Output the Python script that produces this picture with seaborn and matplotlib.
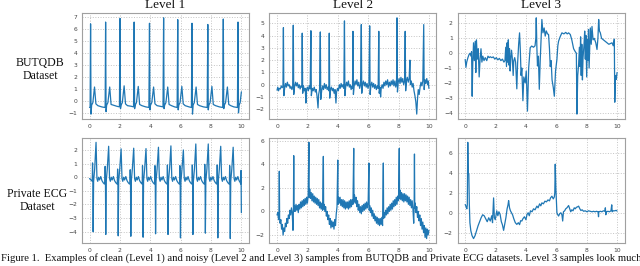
import numpy as np
import pandas as pd
import matplotlib
matplotlib.use("Agg")
import matplotlib.pyplot as plt
from matplotlib.ticker import MultipleLocator
import seaborn as sns

# ---------------- data ----------------
col_titles = ["Level 1", "Level 2", "Level 3"]
row_labels = ["BUTQDB\nDataset", "Private ECG\nDataset"]
caption = ("Figure 1.  Examples of clean (Level 1) and noisy (Level 2 and Level 3) samples "
           "from BUTQDB and Private ECG datasets. Level 3 samples look much")

# BUTQDB, level 1
t_a = [0.00, 0.04, 0.07, 0.10, 0.14, 0.22, 0.33, 0.42, 0.55, 0.80, 1.00,
       1.03, 1.06, 1.09, 1.13, 1.21, 1.33, 1.42, 1.55, 1.80, 1.97,
       2.01, 2.04, 2.08, 2.16, 2.28, 2.37, 2.50, 2.75, 2.90,
       2.94, 2.97, 3.01, 3.09, 3.21, 3.30, 3.45, 3.70, 3.91,
       3.95, 3.98, 4.02, 4.10, 4.22, 4.31, 4.45, 4.65, 4.84,
       4.88, 4.91, 4.95, 5.03, 5.15, 5.24, 5.40, 5.60, 5.77,
       5.81, 5.84, 5.88, 5.96, 6.08, 6.17, 6.30, 6.55, 6.71,
       6.75, 6.78, 6.82, 6.90, 7.02, 7.11, 7.25, 7.50, 7.75,
       7.79, 7.82, 7.86, 7.94, 8.06, 8.15, 8.30, 8.55, 8.77,
       8.81, 8.84, 8.88, 8.96, 9.08, 9.17, 9.30, 9.50, 9.74,
       9.78, 9.81, 9.85, 9.92, 10.00]
v_a = [-0.50, -0.45, 6.45, -1.05, -0.30, -0.10, 1.20, -0.20, -0.35, -0.45, -0.50,
       -0.40, 6.60, -0.85, -0.30, -0.10, 1.20, -0.25, -0.30, -0.40, -0.45,
       6.90, -0.60, -0.30, -0.10, 1.30, -0.20, -0.35, -0.40, -0.45,
       6.60, -0.60, -0.30, -0.10, 1.25, -0.25, -0.35, -0.45, -0.50,
       6.50, -0.70, -0.30, -0.10, 1.20, -0.20, -0.35, -0.40, -0.45,
       6.95, -0.60, -0.30, -0.10, 1.20, -0.25, -0.35, -0.45, -0.50,
       6.80, -0.70, -0.30, -0.10, 1.25, -0.20, -0.35, -0.45, -0.50,
       6.50, -1.05, -0.30, -0.10, 1.20, -0.25, -0.35, -0.45, -0.50,
       6.40, -0.70, -0.30, -0.10, 1.25, -0.25, -0.35, -0.45, -0.50,
       6.85, -0.60, -0.30, -0.10, 1.20, -0.25, -0.35, -0.45, -0.50,
       6.60, -0.95, -0.30, -0.10, 0.80]

# BUTQDB, level 2
t_b = [0.00, 0.05, 0.10, 0.15, 0.22, 0.28, 0.34, 0.39, 0.42, 0.45, 0.50, 0.56, 0.62, 0.68, 0.74, 0.80,
       0.86, 0.92, 0.98, 1.03, 1.07, 1.10, 1.15, 1.22, 1.28, 1.34, 1.40, 1.46, 1.52, 1.58, 1.63, 1.66,
       1.69, 1.74, 1.80, 1.86, 1.90, 1.94, 2.00, 2.06, 2.12, 2.18, 2.23, 2.26, 2.32, 2.38, 2.45, 2.52,
       2.58, 2.64, 2.70, 2.74, 2.80, 2.85, 2.88, 2.94, 3.00, 3.06, 3.12, 3.18, 3.24, 3.30, 3.36, 3.41,
       3.44, 3.47, 3.52, 3.58, 3.64, 3.70, 3.76, 3.82, 3.88, 3.92, 3.98, 4.04, 4.10, 4.16, 4.22, 4.28,
       4.34, 4.40, 4.44, 4.47, 4.52, 4.58, 4.64, 4.70, 4.76, 4.82, 4.88, 4.94, 4.97, 5.00, 5.03, 5.08,
       5.14, 5.20, 5.26, 5.32, 5.38, 5.44, 5.50, 5.55, 5.58, 5.63, 5.69, 5.75, 5.81, 5.87, 5.93, 5.99,
       6.05, 6.10, 6.13, 6.18, 6.24, 6.30, 6.36, 6.42, 6.48, 6.54, 6.60, 6.66, 6.70, 6.73, 6.78, 6.82,
       6.86, 6.92, 6.98, 7.04, 7.10, 7.16, 7.22, 7.28, 7.34, 7.40, 7.46, 7.52, 7.58, 7.64, 7.70, 7.76,
       7.82, 7.87, 7.90, 7.93, 7.98, 8.04, 8.10, 8.16, 8.22, 8.28, 8.34, 8.40, 8.44, 8.47, 8.52, 8.58,
       8.64, 8.70, 8.75, 8.78, 8.84, 8.90, 8.96, 9.02, 9.08, 9.14, 9.20, 9.25, 9.30, 9.36, 9.42, 9.48,
       9.54, 9.60, 9.66, 9.69, 9.74, 9.80, 9.86, 9.92, 9.96, 10.00]
v_b = [-0.45, -0.20, -0.50, -0.30, -0.35, -0.10, -0.25, -0.15, 4.65, -0.90, -0.30, 0.10, -0.20, 0.20, -0.10, 0.00,
       -0.30, -0.15, -0.40, -0.20, 4.85, -0.80, -0.20, 0.20, -0.10, 0.15, -0.25, 0.00, -0.35, -0.10, -0.20, 4.20,
       -0.70, -0.10, -0.50, -0.30, -1.50, -0.40, -0.20, -0.50, -0.10, -0.35, 4.40, -0.90, -0.30, -0.50, -0.20, -0.60,
       -0.40, -1.00, -1.90, -0.80, -0.40, 4.30, -1.20, -0.50, -0.10, -0.40, 0.10, -0.30, 0.00, -0.40, -0.20, -0.50,
       4.20, -1.10, -0.40, -0.20, -0.50, -0.30, -0.70, -0.40, -1.50, -0.60, -0.30, -0.50, 0.00, -0.30, 0.10, -0.20,
       0.00, -0.30, 5.20, -0.90, -0.20, 0.20, -0.10, 0.30, -0.20, 0.00, -0.40, -0.10, -0.30, 4.35, -0.80, -0.10,
       0.30, 0.00, 0.40, -0.10, 0.20, -0.30, 0.00, 4.90, -0.70, 0.00, 0.30, -0.10, 0.20, -0.20, 0.10, -0.30,
       0.00, 4.80, -0.80, -0.10, 0.20, -0.20, 0.10, -0.30, 0.00, -0.40, -0.10, -0.30, 4.35, -0.70, -0.20, -1.00,
       -0.30, 0.00, -0.30, 0.20, -0.10, 0.30, 0.00, 0.40, -0.20, 0.20, -0.10, 0.30, 0.00, 0.40, -0.10, 0.30,
       -0.20, 0.10, 5.45, -0.60, 0.20, 0.50, 0.10, 0.60, 0.20, 0.50, 0.00, 0.30, 4.35, -0.50, 0.30, 0.60,
       0.20, 0.50, 2.00, 0.00, 0.30, -0.20, 0.10, -0.50, -0.90, -1.40, -2.40, -1.20, -0.40, -0.80, -0.20, 0.20,
       -0.10, 0.30, 4.90, -0.40, 0.40, 0.10, 0.50, 0.00, 0.30, -0.30]

# BUTQDB, level 3
t_c = [0.00, 0.05, 0.10, 0.18, 0.25, 0.32, 0.38, 0.42, 0.46, 0.50, 0.55, 0.60, 0.66, 0.70, 0.74, 0.80,
       0.86, 0.92, 0.98, 1.04, 1.10, 1.16, 1.24, 1.32, 1.42, 1.50, 1.58, 1.65, 1.75, 1.85, 1.95, 2.05,
       2.15, 2.25, 2.35, 2.45, 2.55, 2.62, 2.67, 2.72, 2.76, 2.80, 2.84, 2.88, 2.92, 2.96, 3.00, 3.05,
       3.10, 3.16, 3.20, 3.26, 3.32, 3.40, 3.45, 3.52, 3.58, 3.63, 3.68, 3.73, 3.80, 3.86, 3.95, 4.02,
       4.10, 4.18, 4.28, 4.38, 4.50, 4.60, 4.65, 4.68, 4.72, 4.76, 4.82, 4.88, 4.94, 5.00, 5.05, 5.12,
       5.20, 5.27, 5.34, 5.42, 5.49, 5.55, 5.60, 5.66, 5.72, 5.80, 5.87, 5.95, 6.04, 6.10, 6.15, 6.25,
       6.37, 6.50, 6.62, 6.72, 6.81, 6.92, 7.02, 7.14, 7.25, 7.32, 7.36, 7.41, 7.47, 7.52, 7.56, 7.60,
       7.64, 7.68, 7.72, 7.76, 7.82, 7.87, 7.91, 7.95, 8.00, 8.04, 8.08, 8.12, 8.16, 8.20, 8.24, 8.30,
       8.35, 8.42, 8.50, 8.60, 8.68, 8.74, 8.79, 8.84, 8.90, 8.98, 9.10, 9.22, 9.34, 9.46, 9.56, 9.67,
       9.75, 9.82, 9.85, 9.90, 9.95, 10.00]
v_c = [-0.42, -0.95, -0.60, -0.30, -0.10, 0.00, -0.20, 0.10, -2.90, -0.60, 0.70, -0.50, 0.80, -1.30, 0.90, -0.40,
       0.30, -1.60, -0.40, 0.30, -0.60, -0.20, -0.50, -0.30, -0.50, -0.20, -0.30, -0.24, -0.30, -0.25, -0.40, -0.30,
       -0.45, -0.35, -0.50, -0.40, -0.60, -0.50, 0.40, -0.90, 0.70, -0.60, 0.90, -0.80, 0.30, -1.20, -0.40, 0.20,
       -0.30, -1.50, -0.50, -0.30, -0.60, -2.40, -0.70, 0.60, 1.37, 0.20, -1.50, -1.00, -3.20, -1.60, -2.00, -1.20,
       -3.90, -1.00, 0.37, 0.48, 0.40, 0.50, 1.00, 2.38, 0.40, -0.86, -0.20, -2.43, -0.50, 1.00, 2.27, 1.37,
       1.70, 1.15, 1.50, 1.30, 1.26, 0.30, -0.90, -0.50, -1.80, -2.30, -2.90, -1.20, -0.42, 0.50, 0.81, 1.10,
       1.37, 1.30, 1.40, 1.30, 1.37, 1.26, 0.90, 0.30, 0.10, 0.00, -4.10, -1.50, -0.75, 0.40, -0.90, 1.10,
       -1.50, 0.60, -1.80, -0.30, 0.50, 1.49, -0.40, 1.20, -1.60, 0.90, -0.50, 1.60, -1.00, 0.30, 1.70, 0.60,
       1.80, 0.90, 1.00, 0.70, 0.25, 1.00, 2.27, 1.50, 1.37, 1.00, 0.90, 0.80, 0.70, 0.60, 0.65, 0.70,
       0.50, 0.95, -3.30, -1.50, -1.76, -1.30]

# Private ECG, level 1
t_d = [0.00, 0.10, 0.18, 0.20, 0.22, 0.24, 0.27, 0.34, 0.43, 0.49, 0.54, 0.60, 0.66, 0.74, 0.82, 0.90, 0.98,
       1.01, 1.03, 1.05, 1.07, 1.10, 1.17, 1.26, 1.32, 1.37, 1.43, 1.49, 1.57, 1.65, 1.73, 1.81,
       1.83, 1.85, 1.87, 1.89, 1.92, 1.99, 2.08, 2.14, 2.19, 2.25, 2.31, 2.39, 2.47, 2.55, 2.63,
       2.66, 2.68, 2.70, 2.72, 2.75, 2.82, 2.91, 2.97, 3.02, 3.08, 3.14, 3.22, 3.30, 3.38, 3.46,
       3.47, 3.49, 3.51, 3.53, 3.56, 3.63, 3.72, 3.78, 3.83, 3.89, 3.95, 4.03, 4.11, 4.19, 4.27,
       4.29, 4.31, 4.33, 4.35, 4.38, 4.45, 4.54, 4.60, 4.65, 4.71, 4.77, 4.85, 4.93, 5.01, 5.09,
       5.11, 5.13, 5.15, 5.17, 5.20, 5.27, 5.36, 5.42, 5.47, 5.53, 5.59, 5.67, 5.75, 5.83, 5.91,
       5.93, 5.95, 5.97, 5.99, 6.02, 6.09, 6.18, 6.24, 6.29, 6.35, 6.41, 6.49, 6.57, 6.65, 6.73,
       6.75, 6.77, 6.79, 6.81, 6.84, 6.91, 7.00, 7.06, 7.11, 7.17, 7.23, 7.31, 7.39, 7.47, 7.55,
       7.57, 7.59, 7.61, 7.63, 7.66, 7.73, 7.82, 7.88, 7.93, 7.99, 8.05, 8.13, 8.21, 8.29, 8.37,
       8.39, 8.41, 8.43, 8.45, 8.48, 8.55, 8.64, 8.70, 8.75, 8.81, 8.87, 8.95, 9.03, 9.11, 9.19,
       9.21, 9.23, 9.25, 9.27, 9.30, 9.37, 9.46, 9.52, 9.57, 9.63, 9.69, 9.77, 9.85, 9.93,
       9.96, 9.98, 10.00]
v_d = [-0.10, -0.20, -0.30, 1.05, -0.30, -4.00, -0.30, 0.60, 2.56, -0.10, -0.30, 0.00, -0.20, 0.05, -0.25, -0.40, -0.50,
       -0.40, 0.80, -0.30, -4.20, -0.30, 0.60, 2.27, -0.10, -0.30, 0.00, -0.20, 0.05, -0.25, -0.40, -0.50,
       -0.40, 0.60, -0.30, -4.30, -0.30, 0.60, 2.08, -0.10, -0.30, 0.00, -0.20, 0.05, -0.25, -0.40, -0.50,
       -0.40, 0.55, -0.30, -4.33, -0.30, 0.60, 2.13, -0.10, -0.30, 0.00, -0.20, 0.05, -0.25, -0.40, -0.50,
       -0.40, 0.85, -0.30, -4.40, -0.30, 0.60, 2.10, -0.10, -0.30, 0.00, -0.20, 0.05, -0.25, -0.40, -0.50,
       -0.40, 0.85, -0.30, -4.15, -0.30, 0.60, 2.20, -0.10, -0.30, 0.00, -0.20, 0.05, -0.25, -0.40, -0.50,
       -0.40, 0.90, -0.30, -4.20, -0.30, 0.60, 2.30, -0.10, -0.30, 0.00, -0.20, 0.05, -0.25, -0.40, -0.50,
       -0.40, 0.85, -0.30, -4.45, -0.30, 0.60, 2.00, -0.10, -0.30, 0.00, -0.20, 0.05, -0.25, -0.40, -0.50,
       -0.40, 0.90, -0.30, -4.20, -0.30, 0.60, 2.44, -0.10, -0.30, 0.00, -0.20, 0.05, -0.25, -0.40, -0.50,
       -0.40, 0.95, -0.30, -4.10, -0.30, 0.60, 2.44, -0.10, -0.30, 0.00, -0.20, 0.05, -0.25, -0.40, -0.50,
       -0.40, 0.90, -0.30, -4.45, -0.30, 0.60, 2.27, -0.10, -0.30, 0.00, -0.20, 0.05, -0.25, -0.40, -0.50,
       -0.40, 0.85, -0.30, -4.50, -0.30, 0.60, 2.20, -0.10, -0.30, 0.00, -0.20, 0.05, -0.25, -0.40,
       -0.50, 0.50, -2.60]

# Private ECG, level 2
t_e = [0.00, 0.05, 0.10, 0.13, 0.15, 0.17, 0.20, 0.25, 0.30, 0.35, 0.40, 0.45, 0.50, 0.55, 0.60, 0.65,
       0.70, 0.75, 0.80, 0.85, 0.90, 0.95, 1.00, 1.05, 1.08, 1.10, 1.12, 1.15, 1.20, 1.25, 1.30, 1.35,
       1.40, 1.45, 1.50, 1.55, 1.60, 1.65, 1.70, 1.75, 1.80, 1.85, 1.90, 1.95, 2.00, 2.05, 2.10, 2.12,
       2.15, 2.20, 2.25, 2.30, 2.35, 2.40, 2.45, 2.50, 2.55, 2.60, 2.65, 2.70, 2.75, 2.80, 2.85, 2.90,
       2.95, 3.00, 3.05, 3.07, 3.10, 3.15, 3.20, 3.25, 3.30, 3.35, 3.40, 3.45, 3.50, 3.55, 3.60, 3.65,
       3.70, 3.75, 3.80, 3.85, 3.90, 3.95, 4.00, 4.02, 4.05, 4.10, 4.15, 4.20, 4.25, 4.30, 4.35, 4.40,
       4.45, 4.50, 4.55, 4.60, 4.65, 4.70, 4.75, 4.80, 4.85, 4.90, 4.95, 5.00, 5.05, 5.07, 5.10, 5.15,
       5.20, 5.25, 5.30, 5.35, 5.40, 5.45, 5.50, 5.55, 5.60, 5.65, 5.70, 5.75, 5.80, 5.85, 5.90, 5.95,
       6.00, 6.05, 6.07, 6.10, 6.15, 6.20, 6.25, 6.30, 6.35, 6.40, 6.45, 6.50, 6.55, 6.60, 6.65, 6.70,
       6.75, 6.80, 6.85, 6.90, 6.95, 7.00, 7.02, 7.05, 7.10, 7.15, 7.20, 7.25, 7.30, 7.35, 7.40, 7.45,
       7.50, 7.55, 7.60, 7.65, 7.70, 7.75, 7.80, 7.85, 7.90, 7.95, 8.00, 8.05, 8.07, 8.10, 8.15, 8.20,
       8.25, 8.30, 8.35, 8.40, 8.45, 8.50, 8.55, 8.60, 8.65, 8.70, 8.75, 8.80, 8.85, 8.90, 8.95, 9.00,
       9.03, 9.05, 9.07, 9.10, 9.15, 9.20, 9.25, 9.30, 9.35, 9.40, 9.45, 9.50, 9.55, 9.60, 9.65, 9.70,
       9.75, 9.80, 9.85, 9.90, 9.95, 10.00]
v_e = [-0.30, -0.10, -0.70, -0.40, 3.40, -0.60, -1.00, -0.70, -1.50, -1.10, -2.00, -1.40, -1.70, -1.00, -1.30, -0.60,
       -1.00, -0.30, -0.60, 0.10, -0.30, 0.30, -0.10, -1.60, 0.20, 4.72, 0.00, 0.50, 0.00, 0.60, 0.10, 0.50,
       -0.10, 0.60, 0.20, 0.80, 0.30, 0.90, 0.40, 1.00, 0.50, 1.10, 0.60, 1.20, 0.70, 1.30, 5.85, 1.20,
       1.90, 1.10, 1.60, 0.90, 1.50, 0.80, 1.30, 0.70, 1.20, 0.60, 1.10, 0.50, 1.00, 0.30, 0.80, 0.20,
       0.70, 0.10, 4.66, 0.20, 0.60, 0.00, 0.40, -0.40, 0.00, -0.70, -0.30, -1.10, -0.60, -1.40, -0.80, -1.30,
       -0.90, -1.50, -0.70, -1.20, -0.20, 0.40, 4.35, 0.60, 1.20, 0.70, 1.20, 0.50, 1.00, 0.40, 1.00, 0.30,
       0.90, 0.20, 0.80, 0.30, 0.80, 0.20, 0.90, 0.30, 1.00, 0.40, 1.00, 0.60, 5.34, 0.80, 1.40, 0.70,
       1.20, 0.40, 0.90, 0.10, 0.60, -0.10, 0.40, -0.20, 0.50, 0.00, 0.60, 0.10, 0.70, 0.20, 0.80, 0.30,
       0.70, 4.10, 0.10, 0.50, -0.10, 0.30, -0.40, 0.10, -0.60, -0.20, -0.80, -0.40, -1.00, -0.50, -1.10, -0.60,
       -1.20, -0.60, -1.10, -0.50, -1.20, 4.10, -0.60, -0.10, -0.50, 0.10, -0.30, 0.30, -0.20, 0.40, 0.00, 0.60,
       0.10, 0.70, 0.20, 0.90, 0.40, 1.00, 0.50, 1.20, 0.60, 1.30, 0.90, 5.34, 1.10, 1.80, 1.00, 1.60,
       0.90, 1.50, 0.80, 1.50, 0.90, 1.40, 0.80, 1.30, 0.60, 1.20, 0.50, 1.00, 0.30, 0.90, 0.20, -1.00,
       0.50, 4.86, 0.30, 0.70, -0.10, 0.40, -0.50, 0.00, -0.80, -0.30, -1.20, -0.60, -1.50, -0.90, -1.80, -1.20,
       -2.20, -1.40, -2.30, -1.50, -2.00, -1.60]

# Private ECG, level 3
t_f = [0.00, 0.04, 0.08, 0.11, 0.14, 0.17, 0.20, 0.24, 0.27, 0.31, 0.37, 0.45, 0.55, 0.65, 0.75, 0.85,
       0.95, 1.05, 1.15, 1.25, 1.35, 1.45, 1.55, 1.65, 1.75, 1.80, 1.87, 1.92, 1.98, 2.08, 2.15, 2.22,
       2.30, 2.38, 2.45, 2.53, 2.60, 2.68, 2.76, 2.82, 2.86, 2.92, 2.98, 3.05, 3.12, 3.20, 3.30, 3.40,
       3.50, 3.58, 3.65, 3.73, 3.80, 3.90, 4.00, 4.07, 4.15, 4.22, 4.30, 4.40, 4.50, 4.60, 4.72, 4.80,
       4.90, 4.98, 5.05, 5.15, 5.25, 5.35, 5.45, 5.55, 5.62, 5.71, 5.80, 5.87, 5.90, 5.93, 5.97, 6.04,
       6.10, 6.15, 6.22, 6.30, 6.37, 6.42, 6.47, 6.55, 6.62, 6.70, 6.81, 6.88, 6.95, 7.02, 7.10, 7.18,
       7.25, 7.32, 7.40, 7.47, 7.55, 7.62, 7.70, 7.80, 7.90, 8.02, 8.12, 8.24, 8.35, 8.45, 8.55, 8.65,
       8.75, 8.78, 8.80, 8.90, 9.00, 9.10, 9.20, 9.23, 9.26, 9.30, 9.40, 9.50, 9.60, 9.65, 9.68, 9.75,
       9.85, 9.95, 10.00]
v_f = [0.83, 0.70, 0.50, 0.40, 0.80, 7.10, 4.00, 3.90, 1.00, -1.00, -1.80, -2.30, -2.60, -2.30, -1.80, -1.30,
       -0.90, -0.50, -0.20, -0.30, -0.60, -0.90, -0.50, -0.83, -0.30, -1.00, 1.50, -0.50, -0.70, 0.20, -0.30, 0.10,
       -0.17, -0.90, -1.20, -1.77, -1.20, -0.50, 0.40, 0.80, 1.23, 0.50, 0.20, 0.00, -0.20, -0.60, -1.00, -1.17,
       -1.00, -1.20, -0.80, -0.83, -0.60, -0.40, -0.70, -0.17, 0.00, -0.30, 0.20, 0.10, 0.40, 0.30, 0.67, 0.50,
       0.90, 0.70, 1.00, 0.90, 1.17, 1.10, 1.30, 1.20, 1.50, 1.67, 1.40, 1.60, 2.00, 4.90, 2.50, 0.00,
       -0.20, -0.33, -0.10, 0.00, -0.20, -0.83, 0.10, 0.20, 0.40, 0.50, 0.73, 0.40, 0.10, 0.30, 0.20, 0.50,
       0.40, 0.55, 0.60, 0.67, 0.40, 0.23, 0.30, 0.15, 0.20, 0.10, 0.20, 0.15, 0.10, 0.15, 0.10, 0.15,
       0.10, -0.40, 0.10, 0.15, 0.10, 0.20, 0.15, 0.50, -0.20, 0.10, 0.15, 0.10, 0.20, 0.80, 0.10, 0.20,
       0.20, 0.25, 0.17]

x_ticks = [0, 2, 4, 6, 8, 10]
y_steps = [1, 1, 1, 1, 2, 2]

# ---------------- style ----------------
sns.set_theme(style="whitegrid")
plt.rcParams["font.family"] = ["DejaVu Sans"]
plt.rcParams.update({
    "grid.linestyle": ":",
    "grid.color": "#c4c4c4",
    "grid.linewidth": 0.7,
    "axes.edgecolor": "#a0a0a0",
    "axes.linewidth": 0.8,
})

fig = plt.figure(figsize=(6.4, 2.66), dpi=100)
lefts = [0.128, 0.421, 0.715]
bottoms = [0.553, 0.085]
w, h = 0.261, 0.398

series = [(t_a, v_a), (t_b, v_b), (t_c, v_c), (t_d, v_d), (t_e, v_e), (t_f, v_f)]
line_color = "#1f77b4"
serif = ["Liberation Serif", "DejaVu Serif"]

for i, (tt, vv) in enumerate(series):
    r, c = divmod(i, 3)
    ax = fig.add_axes([lefts[c], bottoms[r], w, h])
    df = pd.DataFrame({"t": tt, "v": vv})
    sns.lineplot(data=df, x="t", y="v", ax=ax, color=line_color, linewidth=0.9,
                 sort=False, estimator=None)
    ax.set_xlabel("")
    ax.set_ylabel("")
    ax.set_xticks(x_ticks)
    ax.yaxis.set_major_locator(MultipleLocator(y_steps[i]))
    ax.tick_params(axis="both", labelsize=4.3, colors="#444444", length=1.5, width=0.5, pad=2)
    ax.set_facecolor("white")
    for s in ax.spines.values():
        s.set_color("#a0a0a0")
        s.set_linewidth(0.8)
    if r == 0:
        ax.set_title(col_titles[c], fontsize=9.5, family=serif, pad=3.5, color="#111111")

fig.text(0.063, 0.74, row_labels[0], ha="center", va="center", fontsize=8.5,
         family=serif, linespacing=1.1, color="#111111")
fig.text(0.058, 0.245, row_labels[1], ha="center", va="center", fontsize=8.5,
         family=serif, linespacing=1.1, color="#111111")
fig.text(0.001, 0.03, caption, ha="left", va="center", fontsize=7.65, family=serif, color="#111111")

fig.savefig("out.png", dpi=100, facecolor="white")
